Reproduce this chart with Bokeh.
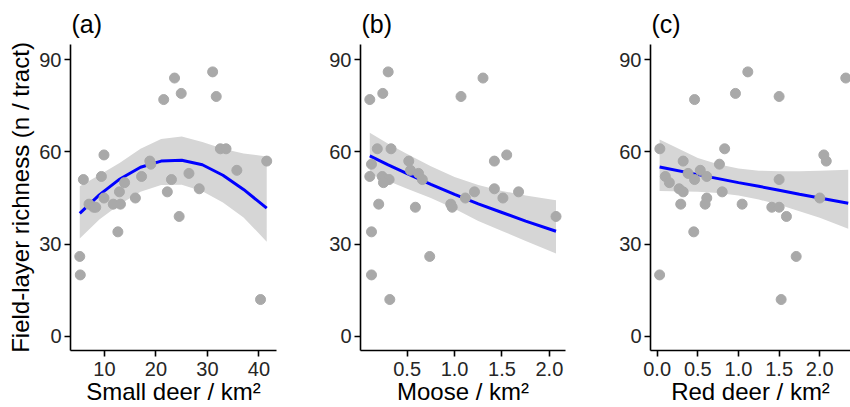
import math
from bokeh.plotting import figure
from bokeh.layouts import row
from bokeh.models import FixedTicker, Range1d, Title
from bokeh.embed import file_html
from bokeh.resources import INLINE

# ---------------- data ----------------
# Panel (a): small deer density vs field-layer richness
small_deer = [5.2, 5.3, 5.9, 7.0, 7.9, 8.3, 9.4, 9.9, 9.9, 11.7, 12.6, 12.9, 13.1, 13.9, 16.0, 17.2, 18.8,
              19.0, 21.5, 22.2, 23.0, 23.6, 24.5, 24.9, 26.4, 28.4, 31.0, 31.7, 32.5, 33.6, 35.7, 40.3, 41.5]
richness_a = [26, 20, 51, 43, 42, 42, 52, 59, 45, 43, 34, 47, 43, 50, 45, 52, 57,
              56, 77, 47, 51, 84, 39, 79, 53, 48, 86, 78, 61, 61, 54, 12, 57]
a_fit_x = [5.2, 9, 13, 17, 21, 25, 29, 33, 37, 41.5]
a_fit = [40.0, 46.0, 51.2, 55.0, 57.0, 57.3, 55.8, 52.4, 47.8, 41.7]
a_upper = [48.8, 52.5, 56.5, 61.0, 64.2, 65.0, 63.2, 61.0, 59.5, 58.5]
a_lower = [31.8, 38.0, 43.0, 47.0, 49.2, 49.3, 47.2, 43.5, 38.7, 30.8]

# Panel (b): moose density
moose = [0.106, 0.243, 0.30, 1.068, 1.30, 0.185, 0.33, 0.124, 0.106, 0.237, 0.27, 0.31, 0.25, 0.517, 0.535,
         0.62, 0.66, 0.20, 0.587, 0.96, 0.975, 1.114, 0.124, 1.42, 1.55, 1.21, 1.42, 1.51, 1.675, 2.07,
         0.738, 0.124, 0.317]
richness_b = [77, 79, 86, 78, 84, 61, 61, 56, 52, 52, 51, 51, 50, 57, 54,
              53, 51, 43, 42, 43, 42, 45, 34, 57, 59, 47, 48, 45, 47, 39,
              26, 20, 12]
b_fit_x = [0.106, 0.3, 0.5, 0.75, 1.0, 1.25, 1.5, 1.75, 2.07]
b_fit = [58.7, 55.8, 52.9, 49.4, 46.2, 43.1, 40.3, 37.5, 34.2]
b_upper = [66.2, 62.6, 59.3, 55.3, 51.8, 49.2, 47.3, 45.8, 44.3]
b_lower = [52.8, 50.5, 48.0, 45.0, 41.5, 37.5, 34.3, 31.0, 27.0]

# Panel (c): red deer density
red_deer = [0.033, 0.46, 0.963, 1.115, 1.50, 2.32, 0.83, 0.32, 0.766, 2.05, 2.08, 1.50, 0.10, 0.15, 0.38,
            0.46, 0.53, 0.61, 0.27, 0.32, 0.80, 0.61, 0.59, 0.29, 1.045, 0.45, 2.0, 1.41, 1.50, 1.59,
            1.71, 0.03, 1.525]
richness_c = [61, 77, 79, 86, 78, 84, 61, 57, 56, 59, 57, 51, 52, 50, 53,
              51, 54, 52, 48, 47, 47, 45, 43, 43, 43, 34, 45, 42, 42, 39,
              26, 20, 12]
c_fit_x = [0.03, 0.5, 0.75, 1.0, 1.25, 1.5, 1.75, 2.0, 2.35]
c_fit = [55.1, 52.6, 51.3, 50.0, 48.8, 47.5, 46.2, 45.0, 43.3]
c_upper = [64.0, 58.0, 56.0, 54.6, 53.9, 53.7, 53.7, 53.9, 54.2]
c_lower = [47.3, 47.0, 46.6, 45.8, 44.5, 42.8, 40.7, 38.6, 35.0]

y_ticks = [0, 30, 60, 90]
a_ticks = [10, 20, 30, 40]
a_tick_labels = ["10", "20", "30", "40"]
b_ticks = [0.5, 1.0, 1.5, 2.0]
b_tick_labels = ["0.5", "1.0", "1.5", "2.0"]
c_ticks = [0.0, 0.5, 1.0, 1.5, 2.0]
c_tick_labels = ["0.0", "0.5", "1.0", "1.5", "2.0"]

panel_titles = ["(a)", "(b)", "(c)"]
x_titles = ["Small deer / km\u00b2", "Moose / km\u00b2", "Red deer / km\u00b2"]
y_title = "Field-layer richness (n / tract)"

FONT = "Liberation Sans"
HEIGHT = 407
Y_RANGE = (-4.57, 94.9)


def panel(xs, ys, fx, fy, lo, hi, xr, ticks, tick_labels, title, xtitle, width,
          b_left, b_right, ylabel=None):
    p = figure(output_backend="svg", toolbar_location=None,
               width=width, height=HEIGHT,
               min_border_left=b_left, min_border_right=b_right,
               min_border_top=0, min_border_bottom=0,
               x_range=Range1d(*xr), y_range=Range1d(*Y_RANGE),
               background_fill_color="white", border_fill_color="white",
               outline_line_color=None)
    p.title = Title(text=title, align="left", text_font=FONT, text_font_size="25px",
                    text_font_style="normal", text_color="black", standoff=14, offset=1)
    p.grid.visible = False
    for ax in (p.xaxis[0], p.yaxis[0]):
        ax.axis_line_width = 1.6
        ax.axis_line_color = "black"
        ax.major_tick_line_width = 1.6
        ax.major_tick_line_color = "black"
        ax.major_tick_out = 6
        ax.major_tick_in = 0
        ax.minor_tick_line_color = None
        ax.major_label_text_font = FONT
        ax.major_label_text_font_size = "20px"
        ax.major_label_text_color = "#262626"
        ax.major_label_standoff = 3
        ax.axis_label_text_font = FONT
        ax.axis_label_text_font_size = "24px"
        ax.axis_label_text_font_style = "normal"
        ax.axis_label_text_color = "black"
        ax.axis_label_standoff = -1
    p.xaxis[0].major_label_standoff = 5
    p.yaxis[0].ticker = FixedTicker(ticks=y_ticks)
    p.xaxis[0].ticker = FixedTicker(ticks=ticks)
    p.xaxis[0].major_label_overrides = {t: l for t, l in zip(ticks, tick_labels)}
    p.xaxis[0].axis_label = xtitle
    if ylabel:
        p.yaxis[0].axis_label = ylabel
        p.yaxis[0].axis_label_standoff = 2

    p.varea(x=fx, y1=lo, y2=hi, fill_color="#D6D6D6", fill_alpha=1.0)
    p.line(fx, fy, line_color="#0000FF", line_width=3)
    p.scatter(xs, ys, size=10, fill_color="#A9A9A9", line_color="#A9A9A9")
    return p


pa = panel(small_deer, richness_a, a_fit_x, a_fit, a_lower, a_upper, (3.4, 43.4),
           a_ticks, a_tick_labels, panel_titles[0], x_titles[0], 300, 70, 24, ylabel=y_title)
pb = panel(moose, richness_b, b_fit_x, b_fit, b_lower, b_upper, (0.008, 2.17),
           b_ticks, b_tick_labels, panel_titles[1], x_titles[1], 290, 60, 25)
pc = panel(red_deer, richness_c, c_fit_x, c_fit, c_lower, c_upper, (-0.082, 2.378),
           c_ticks, c_tick_labels, panel_titles[2], x_titles[2], 260, 60, 0)

layout = row(pa, pb, pc)
open("out.html", "w").write(file_html(layout, INLINE))
